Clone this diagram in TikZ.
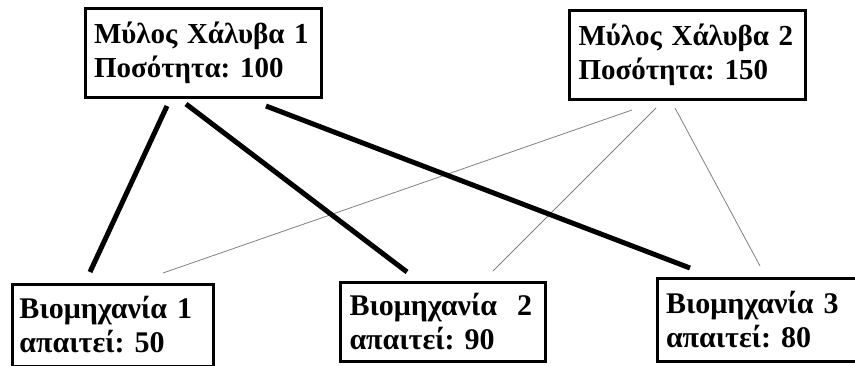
\documentclass[tikz,border=0pt]{standalone}
\usepackage{fontspec}
\setmainfont{Liberation Serif}
\frenchspacing
\begin{document}
\begin{tikzpicture}[x=1pt,y=-1pt,
  box/.style={draw,line width=3pt,rectangle,inner xsep=9pt,inner ysep=0pt,align=left,
    font=\fontsize{29}{34}\selectfont\bfseries},
  lowbox/.style={box,font=\fontsize{30}{34}\selectfont\bfseries},
  heavy/.style={line width=5pt},
  light/.style={line width=0.8pt,gray}]
\useasboundingbox (0,0) rectangle (855,365);
\node[box,minimum width=235pt,minimum height=89pt,text width=218pt] (m1) at (203,53)
  {Μύλος Χάλυβα 1\\Ποσότητα: 100};
\node[box,minimum width=234pt,minimum height=89pt,text width=218pt] (m2) at (687.5,55)
  {Μύλος Χάλυβα 2\\Ποσότητα: 150};
\node[lowbox,minimum width=201pt,minimum height=82pt,text width=187pt,inner xsep=7pt] (b1) at (113,325)
  {Βιομηχανία 1\\απαιτεί: 50};
\node[lowbox,minimum width=201pt,minimum height=79pt,text width=187pt] (b2) at (443,322)
  {Βιομηχανία~~2\\απαιτεί: 90};
\node[lowbox,minimum width=194pt,minimum height=83pt,text width=187pt] (b3) at (759.5,320)
  {Βιομηχανία 3\\απαιτεί: 80};
% connector end points
\coordinate (a1) at (167,106); \coordinate (a2) at (90,272);
\coordinate (c1) at (186,104); \coordinate (c2) at (407,272);
\coordinate (d1) at (266,106); \coordinate (d2) at (690,268);
\coordinate (e1) at (632,110); \coordinate (e2) at (163,273);
\coordinate (f1) at (656,108); \coordinate (f2) at (493,271);
\coordinate (g1) at (675,108); \coordinate (g2) at (760,266);
\draw[light] (e1) -- (e2);
\draw[light] (f1) -- (f2);
\draw[light] (g1) -- (g2);
\draw[heavy] (a1) -- (a2);
\draw[heavy] (c1) -- (c2);
\draw[heavy] (d1) -- (d2);
\end{tikzpicture}
\end{document}
